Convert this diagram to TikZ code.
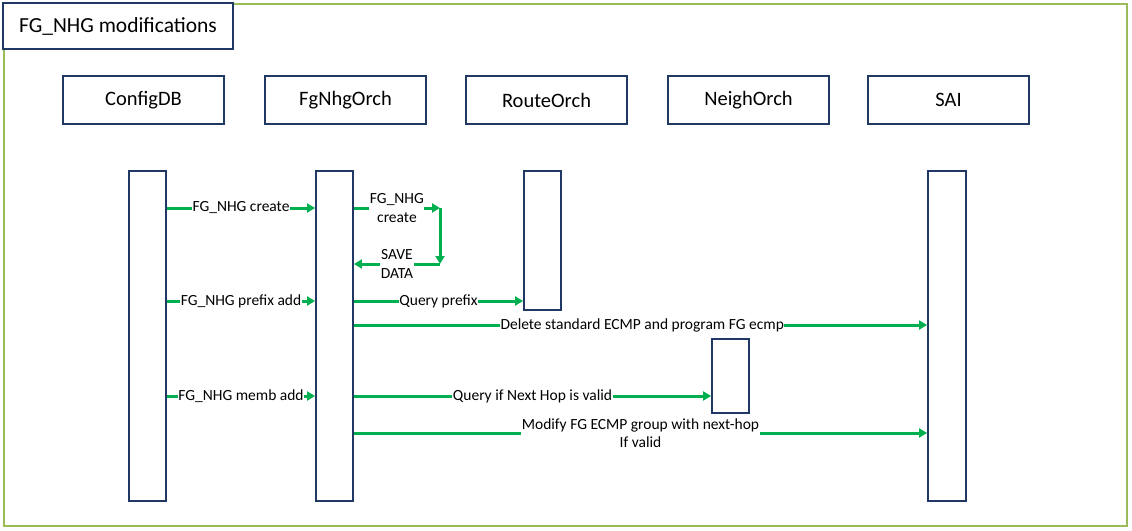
\documentclass[tikz,border=0pt]{standalone}
\usepackage{fontspec}
\setmainfont{Carlito}
\usetikzlibrary{arrows.meta}
\definecolor{navy}{HTML}{1F3864}
\definecolor{frame}{HTML}{9BBB59}
\definecolor{msg}{HTML}{00B050}
\tikzset{
  hdr/.style={draw=navy, line width=1.6pt, minimum width=161pt, minimum height=48pt, inner sep=0pt, font=\fontsize{20.5}{24}\selectfont},
  life/.style={draw=navy, line width=1.8pt, inner sep=0pt},
  msgarrow/.style={draw=msg, line width=3pt, -{Triangle[length=8pt,width=9pt]}},
  msglbl/.style={fill=white, inner sep=0.5pt, font=\fontsize{15.5}{18.5}\selectfont, align=center},
}
\begin{document}
\begin{tikzpicture}[x=1pt,y=-1pt]
\useasboundingbox (0,0) rectangle (1132,530);
\draw[frame, line width=2.5pt] (4,4) rectangle (1127,526);
\node[draw=navy, line width=1.8pt, fill=white, minimum width=230pt, minimum height=46pt, inner sep=0pt, font=\fontsize{21.5}{25}\selectfont] (title) at (118,26) {FG\_NHG modifications};
% headers
\node[hdr] (hcfg) at (143.5,100) {ConfigDB};
\node[hdr] (hfg) at (345.5,100) {FgNhgOrch};
\node[hdr] (hroute) at (546.5,100) {RouteOrch};
\node[hdr] (hneigh) at (748.5,100) {NeighOrch};
\node[hdr] (hsai) at (948.5,100) {SAI};
% lifelines
\node[life, minimum width=37pt, minimum height=330pt] (lcfg) at (147.5,336) {};
\node[life, minimum width=37pt, minimum height=330pt] (lfg) at (334.5,336) {};
\node[life, minimum width=37pt, minimum height=139pt] (lroute) at (542.5,240.5) {};
\node[life, minimum width=37pt, minimum height=74pt] (lneigh) at (730.5,376) {};
\node[life, minimum width=38pt, minimum height=330pt] (lsai) at (947,336) {};
% loop corners
\coordinate (c1) at (440,208);
\coordinate (c2) at (440,264);
% messages
\draw[msgarrow] (lcfg.east |- 0,208) -- node[msglbl] {FG\_NHG create} (lfg.west |- 0,208);
\draw[msgarrow] (lfg.east |- 0,208) -- node[msglbl, pos=0.5] {FG\_NHG\\create} (c1);
\draw[msgarrow] (c1) -- (c2);
\draw[msgarrow] (c2) -- node[msglbl] {SAVE\\DATA} (lfg.east |- 0,264);
\draw[msgarrow] (lcfg.east |- 0,301) -- node[msglbl] {FG\_NHG prefix add} (lfg.west |- 0,301);
\draw[msgarrow] (lfg.east |- 0,301) -- node[msglbl] {Query prefix} (lroute.west |- 0,301);
\draw[msgarrow] (lfg.east |- 0,325) -- node[msglbl, pos=0.503] {Delete standard ECMP and program FG ecmp} (lsai.west |- 0,325);
\draw[msgarrow] (lcfg.east |- 0,396) -- node[msglbl] {FG\_NHG memb add} (lfg.west |- 0,396);
\draw[msgarrow] (lfg.east |- 0,396) -- node[msglbl, pos=0.5] {Query if Next Hop is valid} (lneigh.west |- 0,396);
\draw[msgarrow] (lfg.east |- 0,433) -- node[msglbl, pos=0.5] {Modify FG ECMP group with next-hop\\If valid} (lsai.west |- 0,433);
\end{tikzpicture}
\end{document}
